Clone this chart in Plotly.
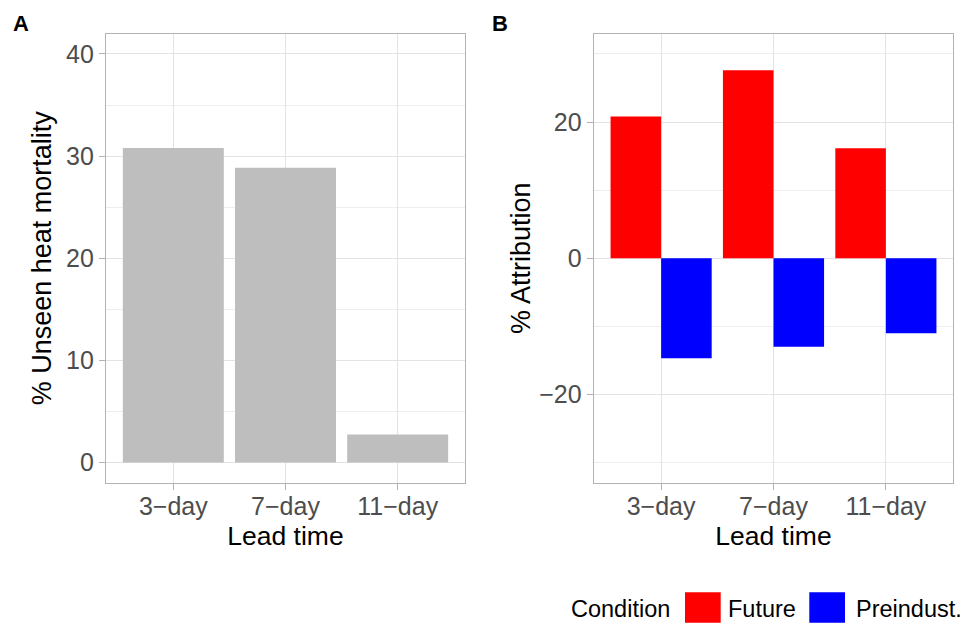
import plotly.graph_objects as go

lead_times = ["3−day", "7−day", "11−day"]
unseen_mortality = [30.8, 28.85, 2.75]
future_attr = [20.8, 27.6, 16.15]
preindust_attr = [-14.7, -13.0, -11.0]
conditions = ["Future", "Preindust."]
condition_colors = ["#FF0000", "#0000FF"]
bar_gray = "#BEBEBE"

W, H = 964, 623
FONT = "Liberation Sans, Arial, sans-serif"
TICK_COL = "#4D4D4D"
GRID = "#E3E3E3"
BORDER = "#B3B3B3"


def px_x(p):
    return p / W


def px_y(p):
    return 1 - p / H


fig = go.Figure()
fig.add_trace(go.Bar(x=lead_times, y=unseen_mortality, marker_color=bar_gray,
                     marker_line_width=0, xaxis="x", yaxis="y", showlegend=False))
fig.add_trace(go.Bar(x=lead_times, y=future_attr, name=conditions[0],
                     marker_color=condition_colors[0], marker_line_width=0,
                     xaxis="x2", yaxis="y2", showlegend=False))
fig.add_trace(go.Bar(x=lead_times, y=preindust_attr, name=conditions[1],
                     marker_color=condition_colors[1], marker_line_width=0,
                     xaxis="x2", yaxis="y2", showlegend=False))

ydom = [px_y(483), px_y(33.5)]
common_x = dict(type="category", range=[-0.6, 2.6], showgrid=True, gridcolor=GRID,
                gridwidth=1, ticks="outside", ticklen=6, tickcolor=BORDER,
                ticklabelstandoff=-5,
                tickfont=dict(family=FONT, size=25, color=TICK_COL),
                showline=True, linecolor=BORDER, linewidth=1.3, mirror=True,
                zeroline=False,
                title=dict(text="Lead time", font=dict(family=FONT, size=26.5, color="black"),
                           standoff=7))
common_y = dict(showgrid=True, gridcolor=GRID, gridwidth=1, ticks="outside", ticklen=6,
                tickcolor=BORDER, tickfont=dict(family=FONT, size=25, color=TICK_COL),
                showline=True, linecolor=BORDER, linewidth=1.3, mirror=True,
                zeroline=False, domain=ydom)

fig.update_layout(
    width=W, height=H, margin=dict(l=0, r=0, t=0, b=0),
    paper_bgcolor="white", plot_bgcolor="white",
    barmode="group", bargap=0.1, bargroupgap=0,
    font=dict(family=FONT),
    xaxis=dict(common_x, domain=[px_x(106), px_x(465)], anchor="y"),
    yaxis=dict(common_y, range=[-2, 42], tickvals=[0, 10, 20, 30, 40], anchor="x",
               minor=dict(dtick=5, tick0=0, showgrid=True, gridcolor="#EEEEEE", ticks=""),
               title=dict(text="% Unseen heat mortality",
                          font=dict(family=FONT, size=27, color="black"), standoff=6)),
    xaxis2=dict(common_x, domain=[px_x(593.7), px_x(953.3)], anchor="y2"),
    yaxis2=dict(common_y, range=[-33, 33], tickvals=[-20, 0, 20],
                ticktext=["−20", "0", "20"], anchor="x2",
                minor=dict(dtick=10, tick0=0, showgrid=True, gridcolor="#EEEEEE", ticks=""),
                title=dict(text="% Attribution",
                           font=dict(family=FONT, size=27, color="black"), standoff=0)),
    showlegend=False,
)

# panel labels
for txt, x in [("A", 11), ("B", 490)]:
    fig.add_annotation(text=f"<b>{txt}</b>", x=px_x(x), y=px_y(23), xref="paper", yref="paper",
                       xanchor="left", yanchor="middle", showarrow=False,
                       font=dict(family=FONT, size=22, color="black"))

# legend (manual, ggplot-style)
fig.add_annotation(text="Condition", x=px_x(569), y=px_y(609), xref="paper", yref="paper",
                   xanchor="left", yanchor="middle", showarrow=False,
                   font=dict(family=FONT, size=23.5, color="black"))
box_x = [685, 809.3]
text_x = [726, 854]
for name, col, bx, tx in zip(conditions, condition_colors, box_x, text_x):
    fig.add_shape(type="rect", xref="paper", yref="paper",
                  x0=px_x(bx), x1=px_x(bx + 35.7), y0=px_y(622.7), y1=px_y(592.3),
                  fillcolor=col, line_width=0)
    fig.add_annotation(text=name, x=px_x(tx), y=px_y(609), xref="paper", yref="paper",
                       xanchor="left", yanchor="middle", showarrow=False,
                       font=dict(family=FONT, size=23.5, color="black"))

fig.write_html("out.html")
